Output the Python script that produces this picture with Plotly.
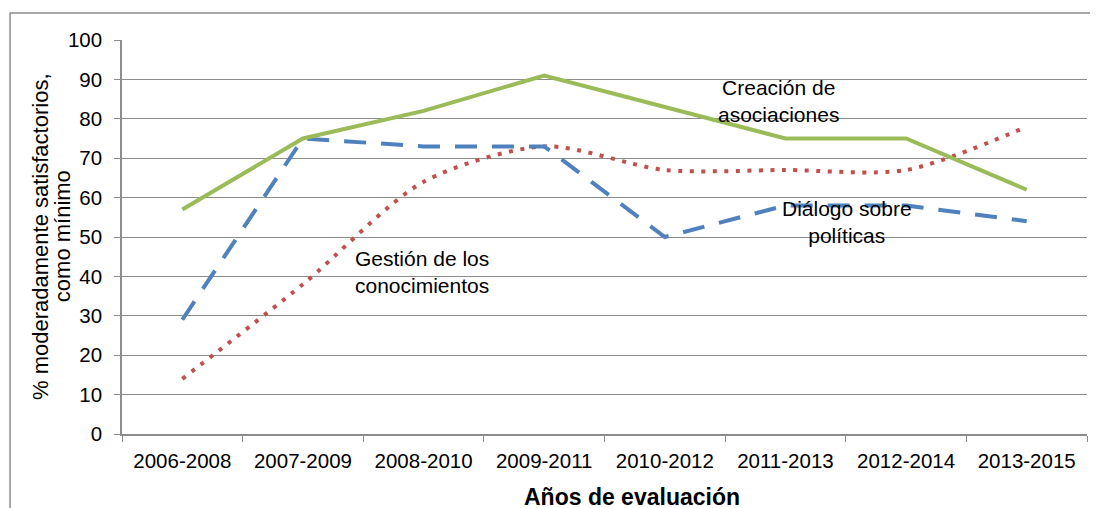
import plotly.graph_objects as go

categories = ["2006-2008", "2007-2009", "2008-2010", "2009-2011",
              "2010-2012", "2011-2013", "2012-2014", "2013-2015"]
creacion = [57, 75, 82, 91, 83, 75, 75, 62]
dialogo = [29, 75, 73, 73, 50, 58, 58, 54]
gestion = [14, 38, 64, 73, 67, 67, 67, 78]
y_ticks = list(range(0, 101, 10))

FONT = "Liberation Sans, Arial, sans-serif"
GRID = "#8c8c8c"
FS = 20.5

fig = go.Figure()
fig.add_trace(go.Scatter(x=categories, y=gestion, mode="lines",
                         line=dict(color="#C0504D", width=4, dash="4px,7.5px",
                                   shape="spline", smoothing=0.8),
                         name="Gestión de los conocimientos"))
fig.add_trace(go.Scatter(x=categories, y=dialogo, mode="lines",
                         line=dict(color="#4F81BD", width=4, dash="22px,15px"),
                         name="Diálogo sobre políticas"))
fig.add_trace(go.Scatter(x=categories, y=creacion, mode="lines",
                         line=dict(color="#9BBB59", width=4),
                         name="Creación de asociaciones"))

# page body has an 8px margin, compensate in margins
fig.update_layout(
    width=1098, height=508,
    margin=dict(l=114, r=19, t=32, b=82),
    paper_bgcolor="white", plot_bgcolor="white",
    showlegend=False,
    font=dict(family=FONT, size=FS, color="#000000"),
    xaxis=dict(type="category", range=[-0.5, 7.5],
               showline=True, linecolor=GRID, linewidth=1.5,
               ticks="outside", tickson="boundaries", ticklen=6, tickcolor=GRID,
               showgrid=False, ticklabelstandoff=8,
               tickfont=dict(family=FONT, size=FS)),
    yaxis=dict(range=[0, 100], tickvals=y_ticks,
               showline=True, linecolor=GRID, linewidth=1.5,
               ticks="outside", ticklen=6, tickcolor=GRID,
               showgrid=True, gridcolor=GRID, gridwidth=1.2,
               zeroline=False, ticklabelstandoff=8,
               tickfont=dict(family=FONT, size=FS)),
    shapes=[dict(type="rect", xref="paper", yref="paper",
                 x0=-0.116, x1=1.3, y0=-0.4, y1=1.0685,
                 line=dict(color="#8c8c8c", width=1.5), layer="below")],
    annotations=[
        dict(x=-0.0850, y=0.5025, xref="paper", yref="paper", showarrow=False,
             xanchor="center", yanchor="middle",
             text="% moderadamente satisfactorios,", textangle=-90,
             font=dict(family=FONT, size=22)),
        dict(x=-0.0620, y=0.5025, xref="paper", yref="paper", showarrow=False,
             xanchor="center", yanchor="middle",
             text="como mínimo", textangle=-90,
             font=dict(family=FONT, size=22)),
        dict(x=0.5285, y=-0.16, xref="paper", yref="paper", showarrow=False,
             xanchor="center", yanchor="middle",
             text="<b>Años de evaluación</b>",
             font=dict(family=FONT, size=23)),
        dict(x=4.94, y=84.6, xref="x", yref="y", showarrow=False,
             text="Creación de<br>asociaciones", align="center",
             font=dict(family=FONT, size=21)),
        dict(x=5.51, y=53.7, xref="x", yref="y", showarrow=False,
             text="Diálogo sobre<br>políticas", align="center",
             font=dict(family=FONT, size=21)),
        dict(x=1.418, y=41.0, xref="x", yref="y", showarrow=False,
             xanchor="left",
             text="Gestión de los<br>conocimientos", align="left",
             font=dict(family=FONT, size=21)),
    ],
)

fig.write_html("out.html")
